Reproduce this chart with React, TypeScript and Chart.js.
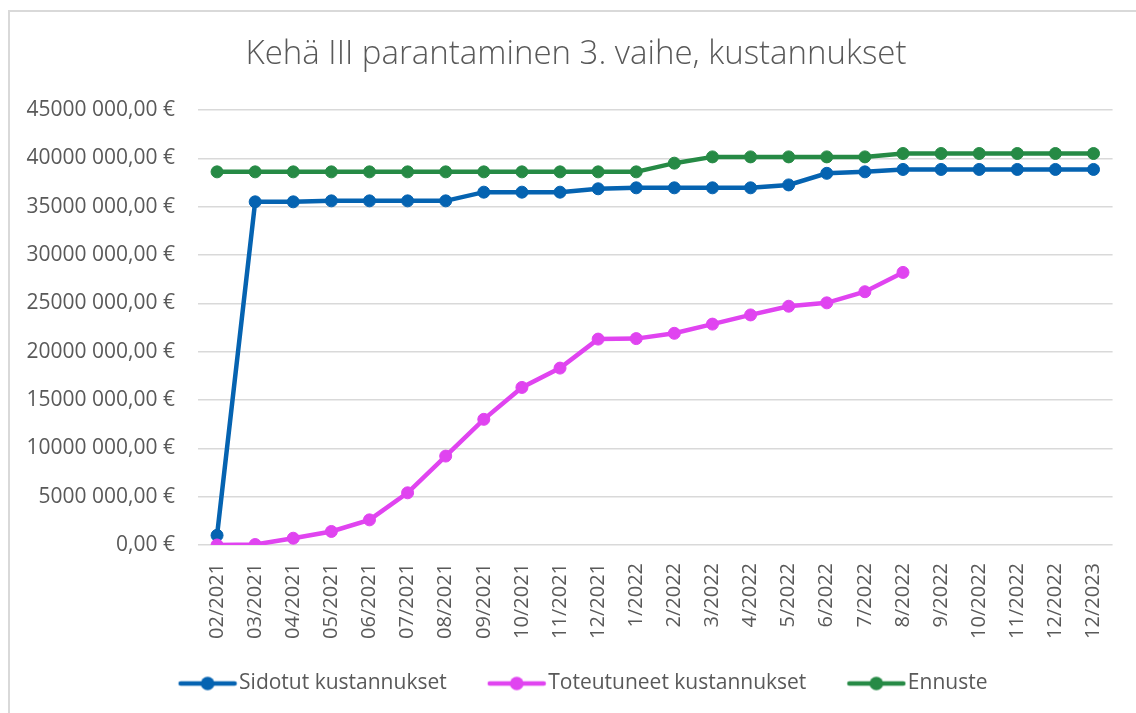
import React, { useEffect, useRef } from "react";
import { Chart, registerables } from "chart.js";

Chart.register(...registerables);

const categories = [
  "02/2021", "03/2021", "04/2021", "05/2021", "06/2021", "07/2021", "08/2021",
  "09/2021", "10/2021", "11/2021", "12/2021", "1/2022", "2/2022", "3/2022",
  "4/2022", "5/2022", "6/2022", "7/2022", "8/2022", "9/2022", "10/2022",
  "11/2022", "12/2022", "12/2023",
];

const sidotut = [
  1000000, 35500000, 35500000, 35600000, 35600000, 35600000, 35600000,
  36500000, 36500000, 36500000, 36850000, 36950000, 36950000, 36950000,
  36950000, 37250000, 38450000, 38600000, 38850000, 38850000, 38850000,
  38850000, 38850000, 38850000,
];

const toteutuneet = [
  0, 50000, 700000, 1400000, 2600000, 5400000, 9200000, 13000000, 16300000,
  18300000, 21300000, 21350000, 21900000, 22850000, 23800000, 24700000,
  25050000, 26200000, 28200000, null, null, null, null, null,
];

const ennuste = [
  38600000, 38600000, 38600000, 38600000, 38600000, 38600000, 38600000,
  38600000, 38600000, 38600000, 38600000, 38600000, 39500000, 40150000,
  40150000, 40150000, 40150000, 40150000, 40500000, 40500000, 40500000,
  40500000, 40500000, 40500000,
];

const seriesNames = ["Sidotut kustannukset", "Toteutuneet kustannukset", "Ennuste"];
const seriesColors = ["#0563b1", "#e044f0", "#268a45"];

const titleText = "Kehä III parantaminen 3. vaihe, kustannukset";
const yMax = 45000000;
const yStep = 5000000;

const TEXT = "#595959";
const FONT = "'Open Sans', 'Noto Sans', sans-serif";

function formatEuro(v: number): string {
  if (v === 0) return "0,00 €";
  const th = Math.floor(v / 1000);
  const rem = String(Math.round(v % 1000)).padStart(3, "0");
  return `${th} ${rem},00 €`;
}

// legend marker: transparent left margin, then line with a dot
function makeMarker(color: string): HTMLCanvasElement {
  const c = document.createElement("canvas");
  c.width = 82;
  c.height = 16;
  const ctx = c.getContext("2d")!;
  ctx.strokeStyle = color;
  ctx.lineWidth = 4.5;
  ctx.lineCap = "round";
  ctx.beginPath();
  ctx.moveTo(25, 8);
  ctx.lineTo(79, 8);
  ctx.stroke();
  ctx.fillStyle = color;
  ctx.beginPath();
  ctx.arc(52, 8, 6.8, 0, Math.PI * 2);
  ctx.fill();
  return c;
}

export default function App() {
  const ref = useRef<HTMLCanvasElement | null>(null);

  useEffect(() => {
    if (!ref.current) return;
    const markers = seriesColors.map(makeMarker);
    const mk = (i: number, data: (number | null)[], order: number) => ({
      label: seriesNames[i],
      data,
      borderColor: seriesColors[i],
      backgroundColor: seriesColors[i],
      pointBackgroundColor: seriesColors[i],
      pointBorderColor: seriesColors[i],
      borderWidth: 4.5,
      pointRadius: 6,
      pointBorderWidth: 1,
      pointHoverRadius: 6,
      tension: 0,
      spanGaps: false,
      order,
      yAxisID: "y",
    });
    const chart = new Chart(ref.current, {
      type: "line",
      data: {
        labels: categories,
        datasets: [mk(0, sidotut, 3), mk(1, toteutuneet, 2), mk(2, ennuste, 1)],
      },
      options: {
        responsive: false,
        animation: false,
        layout: { padding: { left: 20, right: 4, top: 10, bottom: 9 } },
        plugins: {
          tooltip: { enabled: false },
          title: {
            display: true,
            text: titleText,
            color: TEXT,
            font: { family: FONT, size: 33, weight: "300" as any, lineHeight: 1.2 },
            padding: { top: 25, bottom: 35.4 },
          },
          legend: {
            position: "bottom",
            labels: {
              usePointStyle: true,
              pointStyleWidth: 64,
              padding: 27,
              color: TEXT,
              font: { family: FONT, size: 21 },
              sort: (a: any, b: any) => a.datasetIndex - b.datasetIndex,
              generateLabels: (c: any) => {
                const items = Chart.defaults.plugins.legend.labels.generateLabels(c);
                return items.map((it: any) => ({
                  ...it,
                  pointStyle: markers[it.datasetIndex],
                }));
              },
            },
          },
        },
        scales: {
          x: {
            offset: true,
            grid: { display: false, drawTicks: false },
            border: { display: false },
            ticks: {
              autoSkip: false,
              maxRotation: 90,
              minRotation: 90,
              padding: 18,
              color: TEXT,
              font: { family: FONT, size: 20 },
            },
            afterFit: (s: any) => {
              s.height = 101;
            },
          },
          y: {
            min: 0,
            max: yMax,
            grid: { color: "#d9d9d9", lineWidth: 1.5, drawTicks: false },
            border: { display: false },
            ticks: {
              stepSize: yStep,
              padding: 23,
              color: TEXT,
              font: { family: FONT, size: 21 },
              callback: (v: any) => formatEuro(Number(v)),
            },
            afterFit: (s: any) => {
              s.width = 178;
            },
          },
          yRight: {
            position: "right",
            min: 0,
            max: yMax,
            grid: { display: false, drawTicks: false },
            border: { display: false },
            ticks: { display: false },
            afterFit: (s: any) => {
              s.width = 19;
            },
          },
        },
      },
    });
    return () => chart.destroy();
  }, []);

  return (
    <div style={{ position: "fixed", left: 0, top: 0, width: 1136, height: 713, background: "#fff", overflow: "hidden" }}>
      <div
        style={{
          position: "absolute",
          left: 8,
          top: 10,
          width: 1128,
          height: 703,
          borderLeft: "2px solid #d9d9d9",
          borderTop: "2px solid #d9d9d9",
          boxSizing: "border-box",
        }}
      />
      <canvas ref={ref} width={1136} height={713} style={{ position: "absolute", left: 0, top: 0 }} />
    </div>
  );
}
